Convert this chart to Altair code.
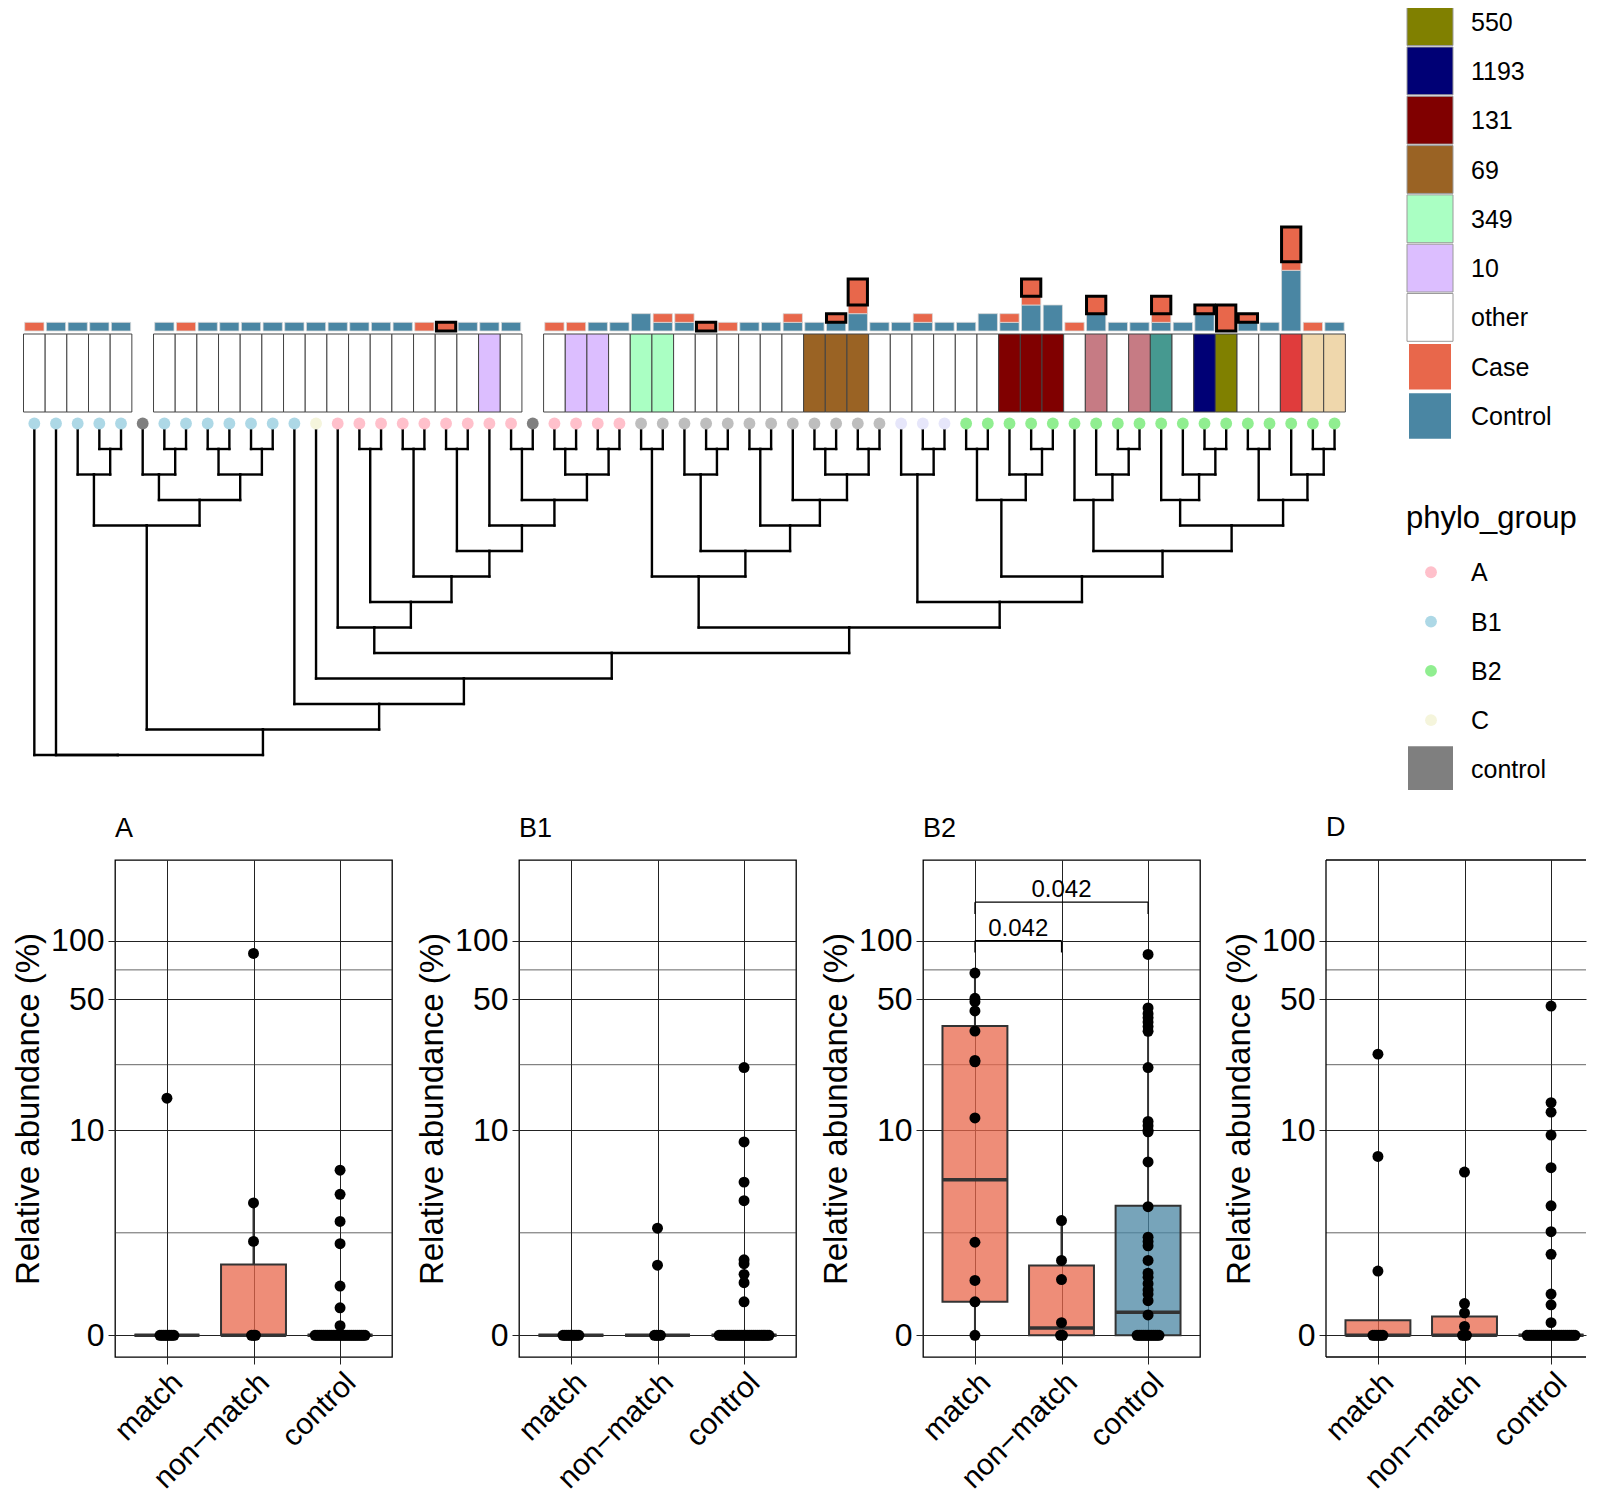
import json
import math
import altair as alt
import pandas as pd

FONT = "Liberation Sans"

# ------------------------------------------------------------------
# Top: tips of the tree, left to right
# ------------------------------------------------------------------
PHYLO = (["B1"] * 5 + ["control"] + ["B1"] * 7 + ["C"] + ["A"] * 9 + ["control"]
         + ["A"] * 4 + ["D"] * 12 + ["E"] * 3 + ["B2"] * 18)

ST = (["other"] * 5 + [None] + ["other"] * 15
      + ["10", "other", None, "other", "10", "10", "other", "349", "349"]
      + ["other"] * 6 + ["69"] * 3 + ["other"] * 6 + ["131"] * 3
      + ["other", "73", "other", "73", "12", "other", "1193", "550", "other", "other",
         "95", "127", "127"])

CONTROL_N = [0, 1, 1, 1, 1, 0, 1, 0, 1, 1,
             1, 1, 1, 1, 1, 1, 1, 1, 0, 0,
             1, 1, 1, 0, 0, 0, 1, 1, 2, 1,
             1, 0, 0, 1, 1, 1, 1, 1, 2, 1,
             1, 1, 1, 1, 2, 1, 3, 3, 0, 2,
             1, 1, 1, 1, 2, 0, 1, 1, 7, 0, 1]
CASE_N = [1, 0, 0, 0, 0, 0, 0, 1, 0, 0,
          0, 0, 0, 0, 0, 0, 0, 0, 1, 0,
          0, 0, 0, 0, 1, 1, 0, 0, 0, 1,
          1, 0, 1, 0, 0, 1, 0, 0, 1, 0,
          0, 1, 0, 0, 0, 1, 1, 0, 1, 0,
          0, 0, 1, 0, 0, 0, 0, 0, 1, 1, 0]
MATCH_N = [0, 0, 0, 0, 0, 0, 0, 0, 0, 0,
           0, 0, 0, 0, 0, 0, 0, 0, 0, 1,
           0, 0, 0, 0, 0, 0, 0, 0, 0, 0,
           0, 1, 0, 0, 0, 0, 0, 1, 3, 0,
           0, 0, 0, 0, 0, 0, 2, 0, 0, 2,
           0, 0, 2, 0, 1, 3, 1, 0, 4, 0, 0]

# tree topology (tip indices)
B1_CLADE = ((2, (3, 4)), ((5, (6, 7)), ((8, 9), (10, 11))))
A_CLADE = (14, ((15, 16), ((17, 18), ((19, 20), (21, ((22, 23), ((24, 25), (26, 27))))))))
D_CLADE = ((28, 29), ((30, (31, 32)), ((33, 34), (35, ((36, 37), (38, 39))))))
E_CLADE = (40, (41, 42))
B2_CLADE = (((43, 44), (45, (46, 47))),
            ((48, (49, (50, 51))), ((52, (53, (54, 55))), ((56, 57), (58, (59, 60))))))
TREE = (0, 1, (B1_CLADE, (12, (13, (A_CLADE, (D_CLADE, (E_CLADE, B2_CLADE)))))))

ST_DOMAIN = ["550", "1193", "131", "69", "349", "10", "other", "73", "12", "95", "127"]
ST_RANGE = ["#808000", "#000075", "#800000", "#9A6324", "#AAFFC3", "#DCBEFF", "#FFFFFF",
            "#C67B84", "#469990", "#E03C3C", "#EFD7AC"]
STATUS_DOMAIN = ["Case", "Control"]
STATUS_RANGE = ["#E8674B", "#4A86A3"]
PHYLO_DOMAIN = ["A", "B1", "B2", "C", "control", "D", "E"]
PHYLO_RANGE = ["#FFC0CB", "#ADD8E6", "#90EE90", "#F5F5DC", "#7F7F7F", "#BEBEBE", "#E6E6FA"]

LEGEND_ST = ["550", "1193", "131", "69", "349", "10", "other"]
LEGEND_STATUS = ["Case", "Control"]
LEGEND_PHYLO = ["A", "B1", "B2", "C", "control"]
LEGEND_PHYLO_TITLE = "phylo_group"

# ------------------------------------------------------------------
# Bottom: relative abundance per phylogroup
# ------------------------------------------------------------------
GROUPS = ["match", "non-match", "control"]
X_LABELS = ["match", "non\u2212match", "control"]
Y_TICKS = [0, 10, 50, 100]

A_MATCH = [15.0]
A_NONMATCH = [2.0, 3.7, 86.0]
A_CONTROL = [0.12, 0.38, 0.78, 1.92, 2.79, 4.2, 5.9]
A_ZEROS = [8, 3, 26]
A_BOX = [[0, 0, 0, 0, 0], [0, 0, 0, 1.29, 3.7], [0, 0, 0, 0, 0]]

B1_MATCH = []
B1_NONMATCH = [1.27, 2.5]
B1_CONTROL = [0.48, 0.85, 1.04, 1.31, 1.42, 3.83, 5.0, 8.6, 21.9]
B1_ZEROS = [9, 4, 26]
B1_BOX = [[0, 0, 0, 0, 0], [0, 0, 0, 0, 0], [0, 0, 0, 0, 0]]

B2_MATCH = [0.48, 0.9, 1.97, 11.7, 23.5, 23.9, 34.1, 43.4, 48.5, 50.5, 68.2]
B2_NONMATCH = [0.16, 0.92, 1.4, 2.83]
B2_CONTROL = [0.27, 0.5, 0.62, 0.7, 0.83, 0.97, 1.07, 1.4, 1.85, 2.0, 2.15, 3.5, 6.6,
              9.8, 10.0, 10.6, 11.2, 21.9, 34.0, 36.0, 38.0, 40.0, 42.0, 45.0, 85.0]
B2_ZEROS = [1, 2, 12]
B2_BOX = [[0, 0.48, 5.17, 36.2, 68.2], [0, 0, 0.09, 1.26, 2.83], [0, 0, 0.31, 3.55, 42.0]]
B2_TESTS = [("match", "non-match", "0.042", 100.0), ("match", "control", "0.042", 157.5)]

D_MATCH = [1.12, 7.1, 25.8]
D_NONMATCH = [0.11, 0.30, 0.45, 5.75]
D_CONTROL = [0.16, 0.43, 0.62, 1.58, 2.36, 3.55, 6.1, 9.4, 12.6, 14.2, 46.0]
D_ZEROS = [6, 3, 25]
D_BOX = [[0, 0, 0, 0.194, 0.194], [0, 0, 0, 0.248, 0.45], [0, 0, 0, 0, 0]]

# ------------------------------------------------------------------
# layout constants (pixels)
# ------------------------------------------------------------------
# the top row shares its left origin with the first bottom panel (after its y axis)
ORIGIN_PAGE = 116.5        # page x of the plot origin of both rows
TILE0_PAGE = 25            # page x of the left edge of the first tile
LEGEND_PAGE = 1364         # page x where the legend column starts
TIP_PX = 21.67
TOP_W = LEGEND_PAGE - ORIGIN_PAGE
SHIFT_PX = TILE0_PAGE - ORIGIN_PAGE
X_DOMAIN = [(0 - SHIFT_PX) / TIP_PX - 0.5, (TOP_W - SHIFT_PX) / TIP_PX - 0.5]
BARS_H, TILES_H, TREE_H = 323, 78, 381
BAR_UNIT_PX = 8.67
LEVEL_PX, LEVEL0_PX = 25.5, 10.5
LEG_W = 236
LEG_H = BARS_H + TILES_H + TREE_H
ROW_PX, ROW0_PX = 49.3, 13.6

PANEL_W, PANEL_H = 277, 497
LAST_PANEL_W = 260          # the last panel is cut by the page edge
UNIT_PX = PANEL_W / 3.2
Y_DOMAIN_T = [-0.11, 2.414]
DOT_STEP_PX = 2.0

xs_top = alt.Scale(domain=X_DOMAIN, nice=False, zero=False)

# ---------------- bars ----------------
bar_rows = []
for i in range(len(PHYLO)):
    for rank, (status, arr) in enumerate([("Control", CONTROL_N), ("Case", CASE_N), ("match", MATCH_N)]):
        if arr[i] > 0:
            bar_rows.append({"tip": i, "status": status, "n": arr[i], "rank": rank})
bars_df = pd.DataFrame(bar_rows)

ys_bars = alt.Scale(domain=[0, BARS_H / BAR_UNIT_PX], nice=False, zero=False)
bar_base = alt.Chart().mark_rect(stroke="#d9d9d9", strokeWidth=0.8).encode(
    x=alt.X("xl:Q", scale=xs_top, axis=None),
    x2="xr:Q",
    y=alt.Y("b0:Q", scale=ys_bars, axis=None),
    y2="b1:Q",
    fill=alt.Fill("fillkey:N", scale=alt.Scale(domain=STATUS_DOMAIN, range=STATUS_RANGE), legend=None),
)
bar_outline = alt.Chart().transform_filter("datum.status == 'match'").mark_rect(
    fillOpacity=0, stroke="black", strokeWidth=3
).encode(
    x=alt.X("xl:Q", scale=xs_top, axis=None),
    x2="xr:Q",
    y=alt.Y("b0:Q", scale=ys_bars, axis=None),
    y2="b1:Q",
)
bars = alt.layer(bar_base, bar_outline, data=bars_df).transform_window(
    b1="sum(n)", frame=[None, 0], groupby=["tip"], sort=[alt.SortField("rank", order="ascending")]
).transform_calculate(
    b0="datum.b1 - datum.n",
    xl="datum.tip - 0.445",
    xr="datum.tip + 0.445",
    fillkey="datum.status == 'Control' ? 'Control' : 'Case'",
).properties(width=TOP_W, height=BARS_H)

# ---------------- tiles ----------------
tiles_df = pd.DataFrame([{"tip": i, "st": s} for i, s in enumerate(ST) if s is not None])
tiles = alt.Chart(tiles_df).transform_calculate(
    xl="datum.tip - 0.5", xr="datum.tip + 0.5"
).mark_rect(stroke="#444444", strokeWidth=1).encode(
    x=alt.X("xl:Q", scale=xs_top, axis=None),
    x2="xr:Q",
    fill=alt.Fill("st:N", scale=alt.Scale(domain=ST_DOMAIN, range=ST_RANGE), legend=None),
).properties(width=TOP_W, height=TILES_H)

# ---------------- tree ----------------
seg_rows = []


def place(node):
    if isinstance(node, int):
        return float(node), 0
    kids = [place(k) for k in node]
    x = sum(k[0] for k in kids) / len(kids)
    lvl = 1 + max(k[1] for k in kids)
    for kx, kl in kids:
        seg_rows.append({"x": kx, "x2": kx, "y": kl, "y2": lvl})
        seg_rows.append({"x": kx, "x2": x, "y": lvl, "y2": lvl})
    return x, lvl


place(TREE)
seg_df = pd.DataFrame(seg_rows)
tips_df = pd.DataFrame({"tip": list(range(len(PHYLO))), "phylo": PHYLO, "lvl": [0] * len(PHYLO)})

ys_tree = alt.Scale(domain=[-LEVEL0_PX / LEVEL_PX, (TREE_H - LEVEL0_PX) / LEVEL_PX],
                    nice=False, zero=False, reverse=True)
tree_lines = alt.Chart(seg_df).mark_rule(color="black", strokeWidth=2.4, strokeCap="square").encode(
    x=alt.X("x:Q", scale=xs_top, axis=None),
    x2="x2:Q",
    y=alt.Y("y:Q", scale=ys_tree, axis=None),
    y2="y2:Q",
)
tree_dots = alt.Chart(tips_df).mark_circle(size=140, opacity=1).encode(
    x=alt.X("tip:Q", scale=xs_top, axis=None),
    y=alt.Y("lvl:Q", scale=ys_tree, axis=None),
    color=alt.Color("phylo:N", scale=alt.Scale(domain=PHYLO_DOMAIN, range=PHYLO_RANGE), legend=None),
)
tree = alt.layer(tree_lines, tree_dots).properties(width=TOP_W, height=TREE_H)

# ---------------- legend (drawn from the legend arrays) ----------------
st_color = dict(zip(ST_DOMAIN, ST_RANGE))
status_color = dict(zip(STATUS_DOMAIN, STATUS_RANGE))
phylo_color = dict(zip(PHYLO_DOMAIN, PHYLO_RANGE))
PHYLO_TITLE_ROW = len(LEGEND_ST) + len(LEGEND_STATUS) + 1.09
PHYLO_ROW0 = PHYLO_TITLE_ROW + 1.08

leg_rows = []
for k, lab in enumerate(LEGEND_ST):
    leg_rows.append({"lab": lab, "row": k, "kind": "st", "color": st_color[lab]})
for k, lab in enumerate(LEGEND_STATUS):
    leg_rows.append({"lab": lab, "row": len(LEGEND_ST) + k, "kind": "status", "color": status_color[lab]})
for k, lab in enumerate(LEGEND_PHYLO):
    leg_rows.append({"lab": lab, "row": PHYLO_ROW0 + k, "kind": "sq" if lab == "control" else "dot",
                     "color": phylo_color[lab]})
leg_df = pd.DataFrame(leg_rows)
leg_title_df = pd.DataFrame([{"lab": LEGEND_PHYLO_TITLE, "row": PHYLO_TITLE_ROW}])

ly = alt.Scale(domain=[-ROW0_PX / ROW_PX, (LEG_H - ROW0_PX) / ROW_PX], nice=False, zero=False, reverse=True)


def key_layer(kind, x0, x1, half, stroke):
    kw = dict(clip=True)
    if stroke:
        kw.update(stroke="#9a9a9a", strokeWidth=1)
    return alt.Chart(leg_df).transform_filter(f"datum.kind == '{kind}'").transform_calculate(
        r0=f"datum.row - {half}", r1=f"datum.row + {half}"
    ).mark_rect(**kw).encode(
        x=alt.value(x0), x2=alt.value(x1),
        y=alt.Y("r0:Q", scale=ly, axis=None), y2="r1:Q",
        fill=alt.Fill("color:N", scale=None),
    )


leg_keys_st = key_layer("st", 44, 90, 0.485, True)
leg_keys_status = key_layer("status", 46, 88, 0.46, False)
leg_keys_sq = key_layer("sq", 45, 90, 0.47, False)
leg_dots = alt.Chart(leg_df).transform_filter("datum.kind == 'dot'").mark_circle(size=140, opacity=1).encode(
    x=alt.value(68), y=alt.Y("row:Q", scale=ly, axis=None), color=alt.Color("color:N", scale=None)
)
leg_labels = alt.Chart(leg_df).mark_text(align="left", baseline="middle", fontSize=25, font=FONT,
                                         color="black", dy=1, clip=True).encode(
    x=alt.value(108), y=alt.Y("row:Q", scale=ly, axis=None), text="lab:N"
)
leg_title = alt.Chart(leg_title_df).mark_text(align="left", baseline="middle", fontSize=31, font=FONT,
                                              color="black").encode(
    x=alt.value(43), y=alt.Y("row:Q", scale=ly, axis=None), text="lab:N"
)
legend = alt.layer(leg_keys_st, leg_keys_status, leg_keys_sq, leg_dots, leg_labels, leg_title).properties(
    width=LEG_W, height=LEG_H)

top_left = alt.vconcat(bars, tiles, tree, spacing=0).resolve_scale(
    x="independent", y="independent", fill="independent", color="independent")
top = alt.hconcat(top_left, legend, spacing=0).resolve_scale(
    x="independent", y="independent", fill="independent", color="independent")

# ---------------- bottom panels ----------------
IDX = "indexof(" + json.dumps(GROUPS) + ", datum.group) + 1"
YT = [math.log10(v + 1) for v in Y_TICKS]
MINOR = [(a + b) / 2 for a, b in zip(YT[:-1], YT[1:])]
OFF = DOT_STEP_PX / UNIT_PX


def T(field):
    return f"log(datum.{field} + 1) / LN10"


ys_p = alt.Scale(domain=Y_DOMAIN_T, nice=False, zero=False)
x_axis = alt.Axis(values=[1, 2, 3], labelExpr=json.dumps(X_LABELS, ensure_ascii=False) + "[datum.value - 1]",
                  labelAngle=-45, labelAlign="right", labelBaseline="top", labelFontSize=30,
                  labelColor="black", labelFont=FONT, labelOverlap=False, labelPadding=3,
                  tickSize=7, tickColor="#222222", tickWidth=1, grid=True, gridColor="#222222",
                  gridWidth=1, domain=False, title=None)
y_axis = alt.Axis(values=YT, labelExpr="format(pow(10, datum.value) - 1, '.0f')", labelFontSize=32,
                  labelColor="black", labelFont=FONT, labelOverlap=False, labelPadding=4,
                  tickSize=7, tickColor="#222222", tickWidth=1, grid=True, gridColor="#222222",
                  gridWidth=1, domain=False, title="Relative abundance (%)", titleFontSize=33,
                  titleFontWeight="normal", titleFont=FONT, titleColor="black", titlePadding=5)


def panel(name, groups_vals, zeros, box, tests=None, width=PANEL_W):
    xs_p = alt.Scale(domain=[0.4, 0.4 + width / UNIT_PX], nice=False, zero=False)

    def X(field):
        return alt.X(field, scale=xs_p, axis=x_axis)

    def Y(field):
        return alt.Y(field, scale=ys_p, axis=y_axis)

    rows = []
    for g, vals, z in zip(GROUPS, groups_vals, zeros):
        for v in [0.0] * z + list(vals):
            rows.append({"group": g, "value": v})
    pts_df = pd.DataFrame(rows)
    box_df = pd.DataFrame([{"group": g, "lo": b[0], "q1": b[1], "med": b[2], "q3": b[3], "hi": b[4],
                            "kind": "Control" if g == "control" else "Case"} for g, b in zip(GROUPS, box)])

    minor = alt.Chart(pd.DataFrame({"t": MINOR})).mark_rule(color="#333333", strokeWidth=0.75).encode(
        y=Y("t:Q"))

    bx = alt.Chart(box_df).transform_calculate(
        i=IDX, xl="datum.i - 0.375", xr="datum.i + 0.375",
        tlo=T("lo"), tq1=T("q1"), tmed=T("med"), tq3=T("q3"), thi=T("hi"))
    rect = bx.mark_rect(fillOpacity=0.75, stroke="#333333", strokeWidth=2).encode(
        x=X("xl:Q"), x2="xr:Q", y=Y("tq1:Q"), y2="tq3:Q",
        fill=alt.Fill("kind:N", scale=alt.Scale(domain=STATUS_DOMAIN, range=STATUS_RANGE), legend=None))
    wlo = bx.mark_rule(color="#333333", strokeWidth=2).encode(x=X("i:Q"), y=Y("tlo:Q"), y2="tq1:Q")
    whi = bx.mark_rule(color="#333333", strokeWidth=2).encode(x=X("i:Q"), y=Y("tq3:Q"), y2="thi:Q")
    med = bx.mark_rule(color="#333333", strokeWidth=3.5).encode(x=X("xl:Q"), x2="xr:Q", y=Y("tmed:Q"))

    pts = alt.Chart(pts_df).transform_calculate(i=IDX, t=T("value")).transform_window(
        rn="row_number()", cnt="count()", groupby=["group", "value"], frame=[None, None]
    ).transform_calculate(
        xp=f"datum.i + (datum.rn - (datum.cnt + 1) / 2) * {OFF}"
    ).mark_circle(size=120, color="black", opacity=1).encode(x=X("xp:Q"), y=Y("t:Q"))

    layers = [minor, rect, wlo, whi, med, pts]
    if tests:
        tdf = pd.DataFrame([{"g1": a, "g2": b, "label": lab, "ypos": y} for a, b, lab, y in tests])
        tb = alt.Chart(tdf).transform_calculate(
            a="indexof(" + json.dumps(GROUPS) + ", datum.g1) + 1",
            b="indexof(" + json.dumps(GROUPS) + ", datum.g2) + 1",
            t=T("ypos"), tl="datum.t - 0.06", xm="(datum.a + datum.b) / 2")
        layers += [
            tb.mark_rule(color="black", strokeWidth=1.2).encode(x=X("a:Q"), x2="b:Q", y=Y("t:Q")),
            tb.mark_rule(color="black", strokeWidth=1.2).encode(x=X("a:Q"), y=Y("tl:Q"), y2="t:Q"),
            tb.mark_rule(color="black", strokeWidth=1.2).encode(x=X("b:Q"), y=Y("tl:Q"), y2="t:Q"),
            tb.mark_text(fontSize=24, font=FONT, color="black", baseline="alphabetic", dy=-5).encode(
                x=X("xm:Q"), y=Y("t:Q"), text="label:N"),
        ]
    if width == PANEL_W:
        view = alt.ViewBackground(stroke="black", strokeWidth=1.3)
    else:
        # panel cut by the page edge: frame drawn on the three visible sides only
        view = alt.ViewBackground(stroke=None)
        frame = alt.Chart(pd.DataFrame({"v": [0]}))
        layers += [
            frame.mark_rule(color="black", strokeWidth=1.3).encode(x=alt.X(datum=0.4, scale=xs_p, axis=x_axis)),
            frame.mark_rule(color="black", strokeWidth=1.3).encode(y=alt.Y(datum=Y_DOMAIN_T[0], scale=ys_p, axis=y_axis)),
            frame.mark_rule(color="black", strokeWidth=1.3).encode(y=alt.Y(datum=Y_DOMAIN_T[1], scale=ys_p, axis=y_axis)),
        ]
    return alt.layer(*layers).properties(
        width=width, height=PANEL_H,
        title=alt.TitleParams(name, anchor="start", frame="group", fontSize=27, fontWeight="normal",
                              font=FONT, color="black", offset=17),
        view=view,
    )


pA = panel("A", [A_MATCH, A_NONMATCH, A_CONTROL], A_ZEROS, A_BOX)
pB1 = panel("B1", [B1_MATCH, B1_NONMATCH, B1_CONTROL], B1_ZEROS, B1_BOX)
pB2 = panel("B2", [B2_MATCH, B2_NONMATCH, B2_CONTROL], B2_ZEROS, B2_BOX, B2_TESTS)
pD = panel("D", [D_MATCH, D_NONMATCH, D_CONTROL], D_ZEROS, D_BOX, width=LAST_PANEL_W)

bottom = alt.hconcat(pA, pB1, pB2, pD, spacing=21).resolve_scale(
    x="independent", y="independent", fill="independent", color="independent")

chart = alt.vconcat(top, bottom, spacing=20).resolve_scale(
    x="independent", y="independent", fill="independent", color="independent"
).properties(padding={"left": 3, "top": 0, "right": 0, "bottom": 0}, background="white").configure(
    font=FONT).configure_view(stroke=None)

chart.save("out.html", embed_options={"renderer": "svg", "actions": False})
